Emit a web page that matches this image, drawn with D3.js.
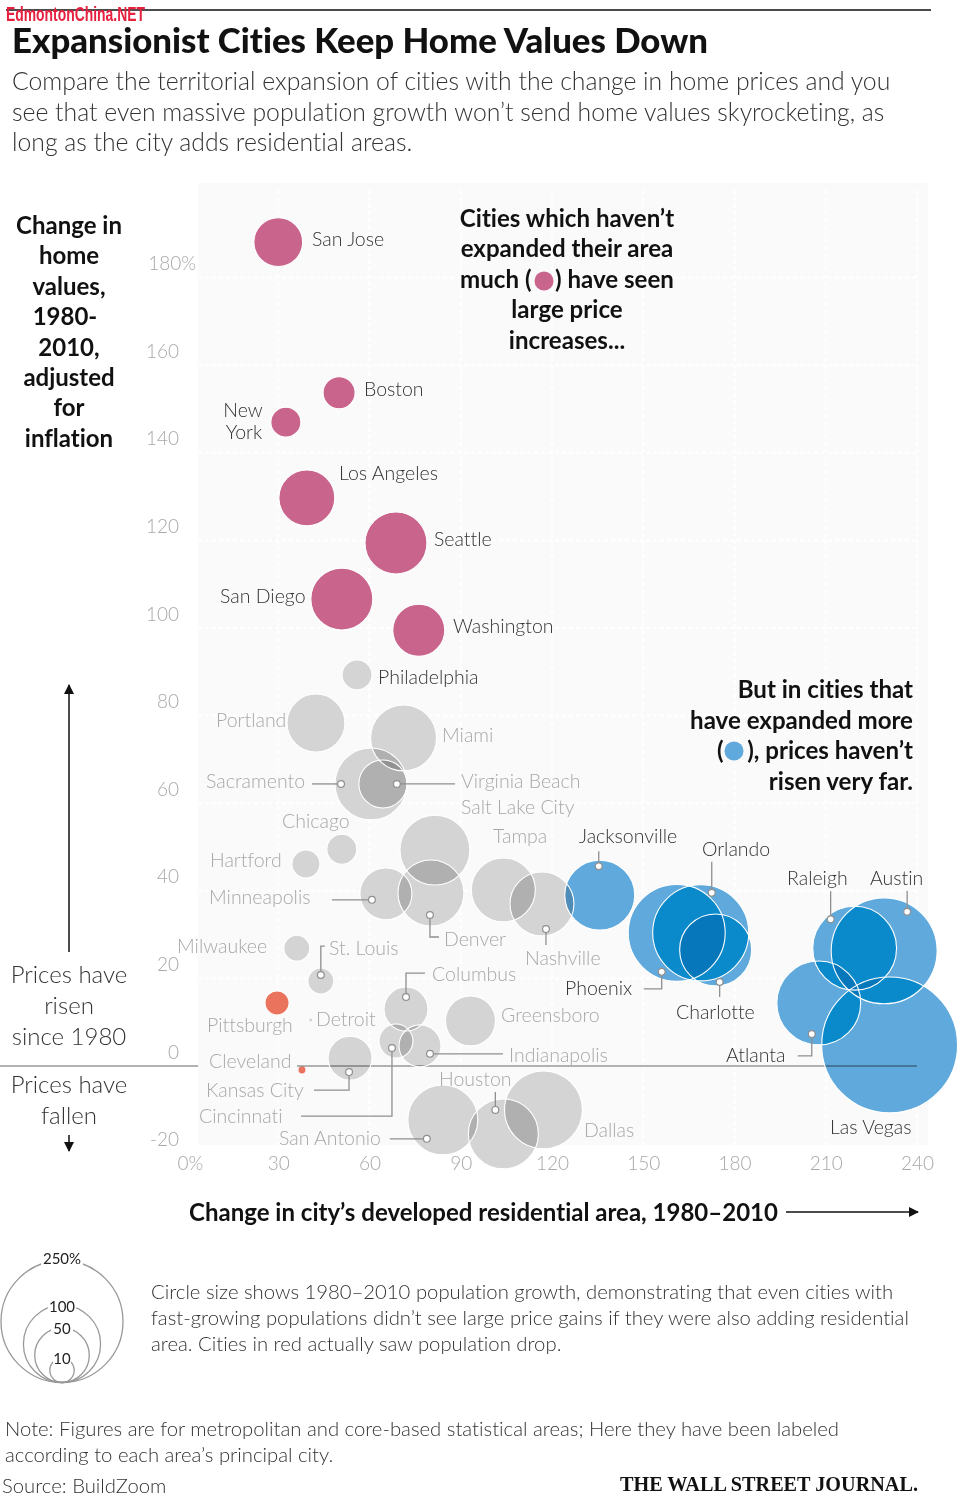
<!DOCTYPE html>
<html><head><meta charset="utf-8">
<script src="https://cdn.jsdelivr.net/npm/d3@7"></script>
<style>
html,body{margin:0;padding:0;background:#fff}
svg{display:block}
text{font-family:Lato,"Open Sans",sans-serif;font-variant-ligatures:none;font-feature-settings:"liga" 0}
</style></head><body><div id="c"></div>
<script>
// ---- data ----
const cityNames=["San Jose","Boston","New York","Los Angeles","Seattle","San Diego","Washington","Philadelphia","Portland","Miami","Sacramento","Virginia Beach","Chicago","Hartford","Salt Lake City","Tampa","Nashville","Minneapolis","Denver","Milwaukee","St. Louis","Pittsburgh","Detroit","Cleveland","Kansas City","Columbus","Cincinnati","Indianapolis","Greensboro","San Antonio","Houston","Dallas","Jacksonville","Phoenix","Orlando","Charlotte","Raleigh","Austin","Atlanta","Las Vegas"];
const areaChange=[30,50,32.5,39.4,68.7,50.9,76.2,55.9,42.4,71.2,60.5,64.4,50.9,39.1,81.5,104,116.7,65.4,80.2,36.1,44,29.6,40.7,37.8,53.6,72,68.7,76.6,93.2,84.1,104,117.2,135.7,161,168.9,173.8,219.5,229.2,207.7,231];
const priceChange=[188.1,153.7,147,129.7,119.4,106.6,99.5,89.3,78.3,74.9,64.4,64.4,49.5,46.1,49.3,40.2,37,39.3,39.5,26.9,19.4,14.4,10.5,-0.9,1.8,13,5.7,4.6,10.3,-12.3,-15.5,-10,39,30.4,30.4,26.5,26.9,26.3,14.4,4.8];
const popGrowth=[40,17.2,15.1,52.6,64.5,64.5,45.4,15.1,56.4,73.1,87,38.7,15.1,13.2,82.2,68.7,68.7,45.4,73.1,11.3,11.3,9.7,0.15,0.82,32.5,32.5,19.4,29.6,41.9,82.2,82.2,102,82.2,158,155,87,118,188.5,118,310];
const cityGroup=["pink","pink","pink","pink","pink","pink","pink","gray","gray","gray","gray","gray","gray","gray","gray","gray","gray","gray","gray","gray","gray","red","gray","red","gray","gray","gray","gray","gray","gray","gray","gray","blue","blue","blue","blue","blue","blue","blue","blue"];
const xTicks=[0,30,60,90,120,150,180,210,240];
const yTicks=[-20,0,20,40,60,80,100,120,140,160,180];
const legendSizes=[250,100,50,10];

// ---- layout ----
const W=959,H=1508;
const x=d3.scaleLinear().domain([0,240]).range([187,917]);
const y=d3.scaleLinear().domain([-20,180]).range([1153.6,277.6]);
const r=d3.scaleSqrt().domain([0,250]).range([0,61]);
const colors={pink:"#c9648c",gray:"#d4d4d4",red:"#e9735d",blue:"#5fa9dc",two:"#0a8acb",three:"#0577ba"};
const cities=cityNames.map((n,i)=>({name:n,x:areaChange[i],y:priceChange[i],g:popGrowth[i],group:cityGroup[i],i}));
const byName=new Map(cities.map(c=>[c.name,c]));
const svg=d3.select("#c").append("svg").attr("width",W).attr("height",H).attr("viewBox",[0,0,W,H]);
const defs=svg.append("defs");
function mk(id){const m=defs.append("marker").attr("id",id).attr("viewBox","0 0 10 10").attr("refX",9).attr("refY",5).attr("markerWidth",12).attr("markerHeight",10).attr("markerUnits","userSpaceOnUse").attr("orient","auto");m.append("path").attr("d","M0,0L10,5L0,10Z").attr("fill","#111");}
mk("arr");

function T(g,s,xx,yy,o={}){
 const t=g.append("text").attr("x",xx).attr("y",yy).text(s)
  .attr("font-size",o.size||20).attr("font-weight",o.w||300).attr("fill",o.c||"#222")
  .attr("text-anchor",o.a||"start");
 if(o.f)t.style("font-family",o.f);
 return t;
}
const page=svg.append("g");
page.append("line").attr("x1",6).attr("x2",931).attr("y1",10).attr("y2",10).attr("stroke","#111").attr("stroke-width",1.4);
T(page,"Expansionist Cities Keep Home Values Down",12,53,{size:34,w:900,c:"#111"}).attr("textLength",696).attr("lengthAdjust","spacingAndGlyphs");
["Compare the territorial expansion of cities with the change in home prices and you","see that even massive population growth won’t send home values skyrocketing, as","long as the city adds residential areas."].forEach((s,i)=>T(page,s,12,90+i*30.7,{size:24.75,c:"#333"}));
T(page,"EdmontonChina.NET",6,21,{size:20,w:700,c:"#e8203f",f:"'Liberation Sans Narrow','Liberation Sans',sans-serif"}).attr("textLength",139).attr("lengthAdjust","spacingAndGlyphs");

// plot background + grid
const plot=svg.append("g");
plot.append("rect").attr("x",198).attr("y",183).attr("width",730).attr("height",962).attr("fill","#fafafa");
plot.append("g").selectAll("line").data(yTicks.filter(d=>d>0)).join("line")
 .attr("x1",198).attr("x2",917).attr("y1",d=>y(d)).attr("y2",d=>y(d))
 .attr("stroke","#fff").attr("stroke-width",2).attr("stroke-dasharray","4 3");
plot.append("g").selectAll("line").data(xTicks.filter(d=>d>0)).join("line")
 .attr("x1",d=>x(d)).attr("x2",d=>x(d)).attr("y1",190).attr("y2",1145)
 .attr("stroke","#fff").attr("stroke-width",2).attr("stroke-dasharray","4 3");

// axes
const yAxis=svg.append("g").attr("transform","translate(179,-14)").call(d3.axisLeft(y).tickValues(yTicks).tickSize(0).tickPadding(0).tickFormat(d=>d===180?"180%":d));
yAxis.select(".domain").remove();
yAxis.selectAll("text").attr("font-size",19).attr("font-weight",300).attr("fill","#a8a8a8").style("font-family","Lato");
yAxis.selectAll("text").filter(d=>d===180).attr("dx",17);
const xAxis=svg.append("g").attr("transform","translate(0,1156)").call(d3.axisBottom(x).tickValues(xTicks).tickSize(0).tickPadding(0).tickFormat(d=>d===0?"0%":d));
xAxis.select(".domain").remove();
xAxis.selectAll("text").attr("font-size",19).attr("font-weight",300).attr("fill","#a8a8a8").style("font-family","Lato");
xAxis.selectAll("text").filter(d=>d===0).attr("dx",3);

// circles
const marks=svg.append("g").style("isolation","isolate");
marks.selectAll("circle.m").data(cities).join("circle").attr("class","m")
 .attr("cx",d=>x(d.x)).attr("cy",d=>y(d.y)).attr("r",d=>r(d.g))
 .attr("fill",d=>colors[d.group]).style("mix-blend-mode","multiply");
// blue overlaps
const blue=cities.filter(c=>c.group==="blue");
blue.forEach(c=>defs.append("clipPath").attr("id","cp"+c.i).append("circle").attr("cx",x(c.x)).attr("cy",y(c.y)).attr("r",r(c.g)));
const ov=marks.append("g");
const circ=(g,c,col)=>g.append("circle").attr("cx",x(c.x)).attr("cy",y(c.y)).attr("r",r(c.g)).attr("fill",col);
blue.forEach((a,i)=>blue.slice(i+1).forEach(b=>circ(ov.append("g").attr("clip-path",`url(#cp${a.i})`),b,colors.two)));
blue.forEach((a,i)=>blue.slice(i+1).forEach((b,j)=>blue.slice(i+j+2).forEach(c=>{
  circ(ov.append("g").attr("clip-path",`url(#cp${a.i})`).append("g").attr("clip-path",`url(#cp${b.i})`),c,colors.three);
})));
// zero line
marks.append("line").attr("x1",0).attr("x2",198).attr("y1",y(0)).attr("y2",y(0)).attr("stroke","#999").attr("stroke-width",1.6).style("mix-blend-mode","multiply");
marks.append("line").attr("x1",297).attr("x2",x(240)).attr("y1",y(0)).attr("y2",y(0)).attr("stroke","#999").attr("stroke-width",1.6).style("mix-blend-mode","multiply");
// white outlines
svg.append("g").selectAll("circle").data(cities.filter(c=>c.g>1)).join("circle")
 .attr("cx",d=>x(d.x)).attr("cy",d=>y(d.y)).attr("r",d=>r(d.g))
 .attr("fill","none").attr("stroke","#fff").attr("stroke-width",1.1);

// leaders: offsets from each city's centre; first point carries the dot
const leaders={"Sacramento":[[-30,0],[-59,0]],"Virginia Beach":[[14,0],[72,0]],"Minneapolis":[[-14,6],[-54,6]],"Denver":[[-1,22],[-1,44],[8,44]],"Nashville":[[4,25],[4,41]],"St. Louis":[[0,-6],[0,-35],[4,-35]],"Columbus":[[0,-12],[0,-36],[19,-36]],"Indianapolis":[[10,8],[83,8]],"Cincinnati":[[-4,7],[-4,75],[-95,75]],"Kansas City":[[-1,14],[-1,32],[-36,32]],"San Antonio":[[-16,19],[-53,19]],"Houston":[[-8,-24],[-8,-42]],"Jacksonville":[[-1,-29],[-1,-44]],"Orlando":[[11,-40],[11,-71]],"Phoenix":[[-15,39],[-15,56],[-33,56]],"Charlotte":[[4,32],[4,47]],"Raleigh":[[-24,-29],[-24,-57]],"Austin":[[23,-39],[23,-60]],"Atlanta":[[-7,31],[-7,53],[-21,53]]};
const lg=svg.append("g");
const ld=Object.entries(leaders).map(([n,p])=>{const c=byName.get(n);return{pts:p.map(q=>[x(c.x)+q[0],y(c.y)+q[1]])};});
lg.selectAll("path").data(ld).join("path").attr("d",d=>d3.line()(d.pts)).attr("fill","none").attr("stroke","#8f8f8f").attr("stroke-width",1.3);
lg.selectAll("circle").data(ld).join("circle").attr("cx",d=>d.pts[0][0]).attr("cy",d=>d.pts[0][1]).attr("r",3.4).attr("fill","#fff").attr("stroke","#8f8f8f").attr("stroke-width",1.2);

// labels
const darkNames=new Set(["San Jose","Boston","Los Angeles","Seattle","San Diego","Washington","Philadelphia","Jacksonville","Orlando","Raleigh","Austin","Phoenix","Charlotte","Atlanta","Las Vegas"]);
const labelAt={"San Jose":[312,246],"Boston":[364,396],"Los Angeles":[339,480],"Seattle":[434,546],"San Diego":[220,603],"Washington":[453,633],"Philadelphia":[378,684],"Portland":[216,727],"Miami":[442,742],"Sacramento":[206,788],"Virginia Beach":[461,788],"Salt Lake City":[461,814],"Chicago":[282,828],"Tampa":[493,843],"Jacksonville":[579,843],"Hartford":[210,867],"Minneapolis":[209,904],"Denver":[444,946],"Milwaukee":[177,953],"St. Louis":[329,955],"Nashville":[525,965],"Columbus":[432,981],"Phoenix":[565,995],"Greensboro":[501,1022],"Detroit":[316,1026],"Pittsburgh":[207,1032],"Cleveland":[209,1068],"Indianapolis":[509,1062],"Kansas City":[206,1097],"Houston":[439,1086],"Cincinnati":[199,1123],"San Antonio":[279,1145],"Dallas":[584,1137],"Las Vegas":[830,1134],"Orlando":[702,856],"Raleigh":[787,885],"Austin":[870,885],"Charlotte":[676,1019],"Atlanta":[726,1062]};
const lab=svg.append("g");
Object.entries(labelAt).forEach(([n,p])=>T(lab,n,p[0],p[1],{size:19.5,c:darkNames.has(n)?"#333":"#a8a8a8"}));
T(lab,"New",243,417,{size:19.5,c:"#333",a:"middle"});
T(lab,"York",244,439,{size:19.5,c:"#333",a:"middle"});

// annotations
const an=svg.append("g");
const sp="\u00a0\u00a0\u00a0\u00a0";
["Change in","home","values,","1980-","2010,","adjusted","for","inflation"].forEach((s,i)=>T(an,s,s==="1980-"?65:69,234+i*30.4,{size:24,w:700,c:"#111",a:"middle"}));
["Cities which haven’t","expanded their area","much ("+sp+") have seen","large price","increases..."].forEach((s,i)=>T(an,s,567,227+i*30.4,{size:24.1,w:700,c:"#111",a:"middle"}));
an.append("circle").attr("cx",544).attr("cy",281).attr("r",9.5).attr("fill",colors.pink);
["But in cities that","have expanded more","("+sp+"), prices haven’t","risen very far."].forEach((s,i)=>T(an,s,913,698+i*30.6,{size:24.1,w:700,c:"#111",a:"end"}));
an.append("circle").attr("cx",734).attr("cy",751).attr("r",9.5).attr("fill",colors.blue);
["Prices have","risen","since 1980"].forEach((s,i)=>T(an,s,69,983+i*31,{size:24,c:"#333",a:"middle"}));
["Prices have","fallen"].forEach((s,i)=>T(an,s,69,1093+i*31,{size:24,c:"#333",a:"middle"}));
an.append("line").attr("x1",69).attr("x2",69).attr("y1",952).attr("y2",685).attr("stroke","#111").attr("stroke-width",1.5).attr("marker-end","url(#arr)");
an.append("line").attr("x1",69).attr("x2",69).attr("y1",1135).attr("y2",1151).attr("stroke","#111").attr("stroke-width",1.5).attr("marker-end","url(#arr)");
T(an,"Change in city’s developed residential area, 1980–2010",189,1221,{size:24,w:700,c:"#111"}).attr("textLength",589).attr("lengthAdjust","spacingAndGlyphs");
an.append("line").attr("x1",786).attr("x2",918).attr("y1",1212).attr("y2",1212).attr("stroke","#111").attr("stroke-width",1.5).attr("marker-end","url(#arr)");

// size legend
const lk=svg.append("g");
const legBase=1382.5,legX=62;
const legLabelDy={250:3,100:7,50:6,10:6};
lk.selectAll("circle").data(legendSizes).join("circle").attr("cx",legX).attr("cy",d=>legBase-r(d)).attr("r",d=>r(d)).attr("fill","none").attr("stroke","#999").attr("stroke-width",1.3);
lk.selectAll("rect").data(legendSizes).join("rect").attr("x",d=>legX-(d===250?21:d===100?14:d===50?11:9)).attr("y",d=>legBase-2*r(d)-10).attr("height",20).attr("width",d=>d===250?42:d===100?28:d===50?22:18).attr("fill","#fff");
lk.selectAll("text").data(legendSizes).join("text").attr("x",legX).attr("y",d=>legBase-2*r(d)+legLabelDy[d]).attr("text-anchor","middle").attr("font-size",15).attr("font-weight",400).attr("fill","#222").text(d=>d===250?"250%":d);
["Circle size shows 1980–2010 population growth, demonstrating that even cities with","fast-growing populations didn’t see large price gains if they were also adding residential","area. Cities in red actually saw population drop."].forEach((s,i)=>T(lk,s,151,1299+i*26,{size:20.3,c:"#333"}));
["Note: Figures are for metropolitan and core-based statistical areas; Here they have been labeled","according to each area’s principal city."].forEach((s,i)=>T(lk,s,5,1436+i*26,{size:20.3,c:"#333"}));
T(lk,"Source: BuildZoom",2,1493,{size:20.3,c:"#333"});
T(lk,"THE WALL STREET JOURNAL.",918,1491,{size:22,w:700,c:"#111",a:"end",f:"'Liberation Serif',serif"}).attr("textLength",298).attr("lengthAdjust","spacingAndGlyphs");
</script></body></html>
